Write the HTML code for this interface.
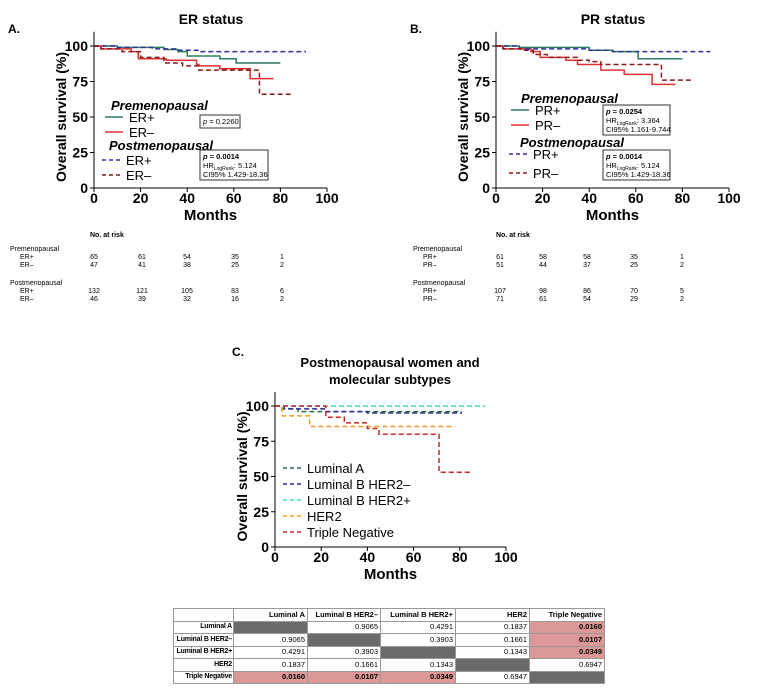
<!DOCTYPE html>
<html><head><meta charset="utf-8">
<style>
body{margin:0;background:#fff;width:762px;height:696px;overflow:hidden;font-family:"Liberation Sans",Arial,sans-serif;}
svg{position:absolute;left:0;top:0}
text{font-family:"Liberation Sans",Arial,sans-serif}
table{position:absolute;left:173px;top:608px;width:431px;table-layout:fixed;border-collapse:collapse;font-size:7.5px;font-family:"Liberation Sans",Arial,sans-serif}
td{border:1px solid #999;height:11.5px;padding:0 2px;text-align:right;line-height:10px;white-space:nowrap;overflow:hidden}
td.h{font-weight:bold}
td.r{font-size:7px;padding:0 1px;letter-spacing:-0.2px}
td.g{background:#6b6b6b}
td.p{background:#dc9897;font-weight:bold}
</style></head><body>
<svg id="fig" width="762" height="696"></svg>
<table>
<colgroup><col style="width:60px"><col style="width:74px"><col style="width:73px"><col style="width:75px"><col style="width:74px"><col style="width:75px"></colgroup>
<tr><td></td><td class="h">Luminal A</td><td class="h">Luminal B HER2–</td><td class="h">Luminal B HER2+</td><td class="h">HER2</td><td class="h">Triple Negative</td></tr>
<tr><td class="h r">Luminal A</td><td class="g"></td><td>0.9065</td><td>0.4291</td><td>0.1837</td><td class="p">0.0160</td></tr>
<tr><td class="h r">Luminal B HER2–</td><td>0.9065</td><td class="g"></td><td>0.3903</td><td>0.1661</td><td class="p">0.0107</td></tr>
<tr><td class="h r">Luminal B HER2+</td><td>0.4291</td><td>0.3903</td><td class="g"></td><td>0.1343</td><td class="p">0.0349</td></tr>
<tr><td class="h r">HER2</td><td>0.1837</td><td>0.1661</td><td>0.1343</td><td class="g"></td><td>0.6947</td></tr>
<tr><td class="h r">Triple Negative</td><td class="p">0.0160</td><td class="p">0.0107</td><td class="p">0.0349</td><td>0.6947</td><td class="g"></td></tr>
</table>
<script>
// Panel A data
const aPreErPosT=[0,10,30,36,40,54,61], aPreErPosS=[100,99,97.5,96,93,91,88], aPreErPosEnd=80;
const aPreErNegT=[0,3,16,19,31,44,45,54,67], aPreErNegS=[100,98,96,91,90,87,86,84,77], aPreErNegEnd=77;
const aPostErPosT=[0,10,25,35,45], aPostErPosS=[100,99,98,97,96], aPostErPosEnd=91;
const aPostErNegT=[0,3,12,20,30,38,45,71], aPostErNegS=[100,98,96,92,88,86,83,66], aPostErNegEnd=85;
// Panel B data
const bPrePrPosT=[0,10,40,50,61], bPrePrPosS=[100,99,97,96,91], bPrePrPosEnd=80;
const bPrePrNegT=[0,3,15,19,30,35,45,55,67], bPrePrNegS=[100,98,96,92,90,87,83,80,73], bPrePrNegEnd=77;
const bPostPrPosT=[0,10,40,50], bPostPrPosS=[100,98,97,96], bPostPrPosEnd=92;
const bPostPrNegT=[0,3,11,16,22,35,40,45,71], bPostPrNegS=[100,98,97,94,92,90,89,87,76], bPostPrNegEnd=85;
// Panel C data
const cLumAT=[0,3,10], cLumAS=[100,98,96], cLumAEnd=81;
const cLumBnT=[0,4,22,40], cLumBnS=[100,98,96,95], cLumBnEnd=81;
const cLumBpT=[0], cLumBpS=[100], cLumBpEnd=91;
const cHer2T=[0,3,15], cHer2S=[100,93,85.5], cHer2End=78;
const cTnT=[0,22,30,40,45,71], cTnS=[100,92,88,84,80,53], cTnEnd=85;
const yTicks=[0,25,50,75,100], xTicks=[0,20,40,60,80,100];
// risk tables
const riskA=[[65,61,54,35,1],[47,41,38,25,2],[132,121,105,83,6],[46,39,32,16,2]];
const riskB=[[61,58,58,35,1],[51,44,37,25,2],[107,98,86,70,5],[71,61,54,29,2]];

const svg=document.getElementById('fig');const NS='http://www.w3.org/2000/svg';
function el(tag,attrs,txt){const e=document.createElementNS(NS,tag);for(const k in attrs)e.setAttribute(k,attrs[k]);if(txt!==undefined)e.textContent=txt;svg.appendChild(e);return e;}
function txt(x,y,s,size,extra){const t=el('text',Object.assign({x:x,y:y,'font-size':size},extra||{}),s);return t;}

function axes(x0,x1,y0,y1,name){
  const sx=v=>x0+(x1-x0)*v/100, sy=v=>y0-(y0-y1)*v/100;
  const g=el('path',{d:`M${x0} ${sy(110)}V${y0}H${x1}`,stroke:'#000','stroke-width':1,fill:'none'});
  
  yTicks.forEach(v=>{el('path',{d:`M${x0-4} ${sy(v)}H${x0}`,stroke:'#000'});
    const t=txt(x0-6,sy(v)+5,v,14,{'text-anchor':'end','font-weight':'bold'});});
  xTicks.forEach(v=>{el('path',{d:`M${sx(v)} ${y0}V${y0+4}`,stroke:'#000'});
    const t=txt(sx(v),y0+15,v,14,{'text-anchor':'middle','font-weight':'bold'});});
  const yt=txt(0,0,'Overall survival (%)',14,{'font-weight':'bold','text-anchor':'middle',transform:`translate(${x0-28},${(y0+sy(100))/2}) rotate(-90)`});
  
  const xt=txt((x0+x1)/2,y0+32,'Months',15,{'font-weight':'bold','text-anchor':'middle'});
  
  return [sx,sy];
}
function km(sx,sy,T,S,end,color,dash,name){
  let d=`M${sx(T[0])} ${sy(S[0])}`;
  for(let i=1;i<T.length;i++){d+=`H${sx(T[i])}V${sy(S[i])}`;}
  d+=`H${sx(end)}`;
  const p=el('path',{d:d,stroke:color,'stroke-width':1.5,fill:'none','stroke-dasharray':dash?'5,3':'none'});
  
}
function legLine(x,y,color,dash,label,name){
  el('path',{d:`M${x} ${y}H${x+18}`,stroke:color,'stroke-width':1.5,'stroke-dasharray':dash?'4,3':'none'});
  const t=txt(x+24,y+5,label,13);
}
function box(x,y,w,h,lines,name){
  const r=el('rect',{x:x,y:y,width:w,height:h,fill:'#fff',stroke:'#333','stroke-width':1});
  
  lines.forEach((l,i)=>{const t=el('text',{x:x+3,y:y+9+i*9,'font-size':7.5});t.innerHTML=l;});
}
function riskTable(x0,cols,rows,lab1,lab2,name){
  const t=txt(cols[0]-4,237,'No. at risk',7,{'font-weight':'bold'});
  const ys=[259,267,293,301];
  txt(x0,251,'Premenopausal',7);txt(x0,285,'Postmenopausal',7);
  ys.forEach((y,i)=>{txt(x0+10,y,i%2?lab2:lab1,7);
    rows[i].forEach((v,j)=>{const c=txt(cols[j],y,v,7,{'text-anchor':'middle'});});});
}
// Panel A
txt(8,33,'A.',12,{'font-weight':'bold'});
txt(211,24,'ER status',14,{'font-weight':'bold','text-anchor':'middle'});
let [sx,sy]=axes(94,327,188,46,'panel-a');
km(sx,sy,aPreErPosT,aPreErPosS,aPreErPosEnd,'#2e7d5b',false,'pre-er-pos-curve');
km(sx,sy,aPreErNegT,aPreErNegS,aPreErNegEnd,'#e03030',false,'pre-er-neg-curve');
km(sx,sy,aPostErPosT,aPostErPosS,aPostErPosEnd,'#3030a0',true,'post-er-pos-curve');
km(sx,sy,aPostErNegT,aPostErNegS,aPostErNegEnd,'#8b1a1a',true,'post-er-neg-curve');
txt(111,110,'Premenopausal',13,{'font-weight':'bold','font-style':'italic'});
legLine(105,117,'#2e7d5b',false,'ER+','legend-pre-er-pos');
legLine(105,132,'#e03030',false,'ER–','legend-pre-er-neg');
txt(109,150,'Postmenopausal',13,{'font-weight':'bold','font-style':'italic'});
legLine(102,160,'#3030a0',true,'ER+','legend-post-er-pos');
legLine(102,175,'#8b1a1a',true,'ER–','legend-post-er-neg');
box(200,115,40,13,['<tspan font-style="italic">p</tspan> = 0.2260'],'pvalue-box-pre');
box(200,150,68,30,['<tspan font-weight="bold"><tspan font-style="italic">p</tspan> = 0.0014</tspan>','HR<tspan font-size="5" dy="2">LogRank</tspan><tspan dy="-2">: 5.124</tspan>','CI95% 1.429-18.36'],'pvalue-box-post');
riskTable(10,[94,142,187,235,282],riskA,'ER+','ER–','risk-table-a');
// Panel B
txt(410,33,'B.',12,{'font-weight':'bold'});
txt(613,24,'PR status',14,{'font-weight':'bold','text-anchor':'middle'});
[sx,sy]=axes(496,729,188,46,'panel-b');
km(sx,sy,bPrePrPosT,bPrePrPosS,bPrePrPosEnd,'#2e7d5b',false,'pre-pr-pos-curve');
km(sx,sy,bPrePrNegT,bPrePrNegS,bPrePrNegEnd,'#e03030',false,'pre-pr-neg-curve');
km(sx,sy,bPostPrPosT,bPostPrPosS,bPostPrPosEnd,'#3030a0',true,'post-pr-pos-curve');
km(sx,sy,bPostPrNegT,bPostPrNegS,bPostPrNegEnd,'#8b1a1a',true,'post-pr-neg-curve');
txt(521,103,'Premenopausal',13,{'font-weight':'bold','font-style':'italic'});
legLine(511,110,'#2e7d5b',false,'PR+','legend-pre-pr-pos');
legLine(511,125,'#e03030',false,'PR–','legend-pre-pr-neg');
txt(520,147,'Postmenopausal',13,{'font-weight':'bold','font-style':'italic'});
legLine(509,154,'#3030a0',true,'PR+','legend-post-pr-pos');
legLine(509,173,'#8b1a1a',true,'PR–','legend-post-pr-neg');
box(603,105,67,30,['<tspan font-weight="bold"><tspan font-style="italic">p</tspan> = 0.0254</tspan>','HR<tspan font-size="5" dy="2">LogRank</tspan><tspan dy="-2">: 3.364</tspan>','CI95% 1.161-9.744'],'pvalue-box-pre-b');
box(603,150,67,30,['<tspan font-weight="bold"><tspan font-style="italic">p</tspan> = 0.0014</tspan>','HR<tspan font-size="5" dy="2">LogRank</tspan><tspan dy="-2">: 5.124</tspan>','CI95% 1.429-18.36'],'pvalue-box-post-b');
riskTable(413,[500,543,587,634,682],riskB,'PR+','PR–','risk-table-b');
// Panel C
txt(232,356,'C.',12,{'font-weight':'bold'});
txt(390,367,'Postmenopausal women and',13,{'font-weight':'bold','text-anchor':'middle'});
txt(390,384,'molecular subtypes',13,{'font-weight':'bold','text-anchor':'middle'});
[sx,sy]=axes(275,506,547,406,'panel-c');
km(sx,sy,cLumBpT,cLumBpS,cLumBpEnd,'#3edcb0',true,'lumb-her2pos-curve');
km(sx,sy,cLumAT,cLumAS,cLumAEnd,'#2e6b4e',true,'luma-curve');
km(sx,sy,cLumBnT,cLumBnS,cLumBnEnd,'#2a2a90',true,'lumb-her2neg-curve');
km(sx,sy,cHer2T,cHer2S,cHer2End,'#f0a020',true,'her2-curve');
km(sx,sy,cTnT,cTnS,cTnEnd,'#c82828',true,'tn-curve');
legLine(283,468,'#2e6b4e',true,'Luminal A','legend-luma');
legLine(283,484,'#2a2a90',true,'Luminal B HER2–','legend-lumb-neg');
legLine(283,500,'#3edcb0',true,'Luminal B HER2+','legend-lumb-pos');
legLine(283,516,'#f0a020',true,'HER2','legend-her2');
legLine(283,532,'#c82828',true,'Triple Negative','legend-tn');
</script>
</body></html>
